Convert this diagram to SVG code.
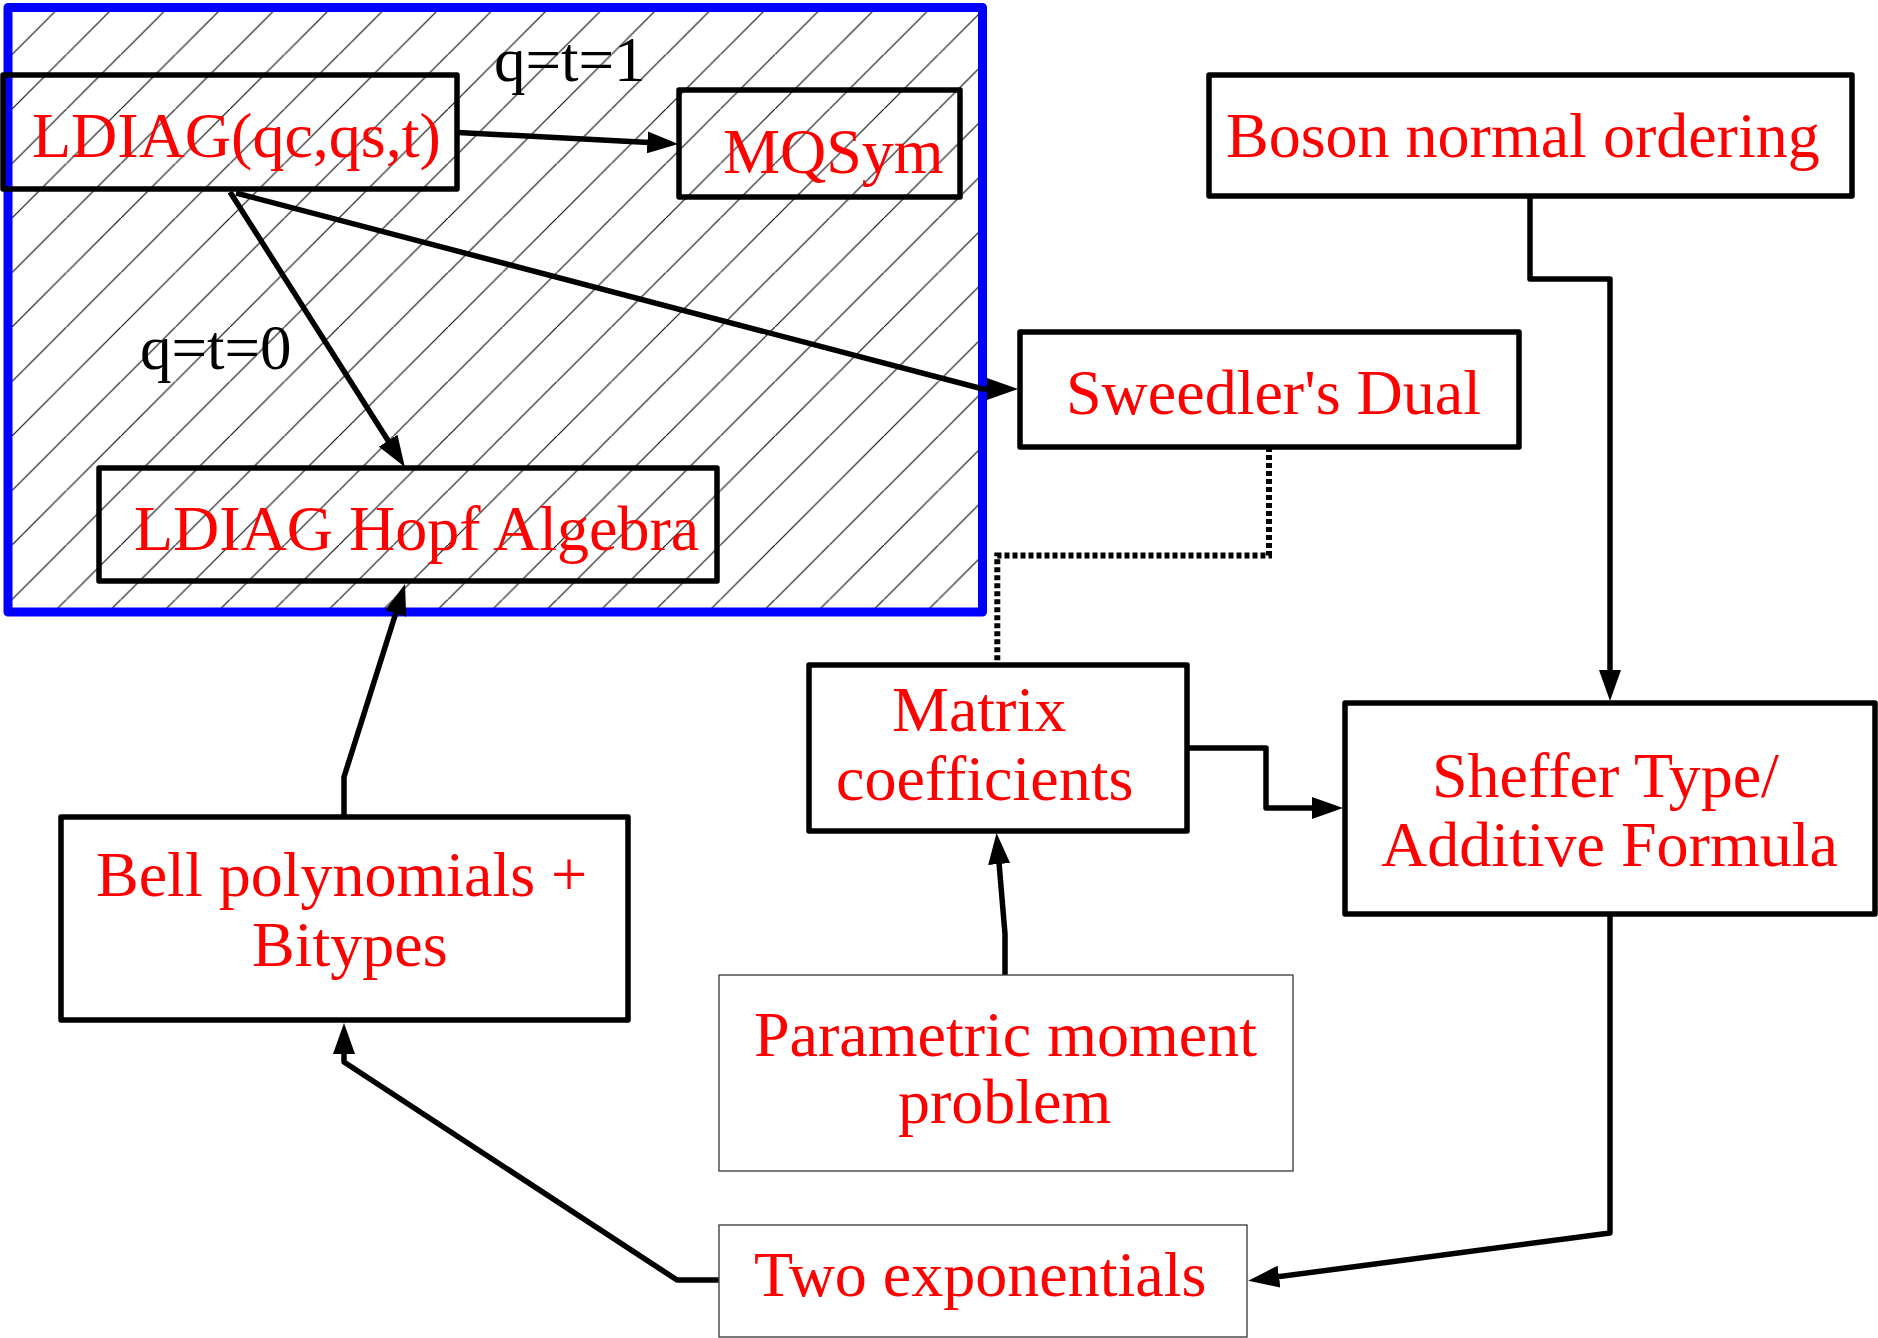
<svg xmlns="http://www.w3.org/2000/svg" width="1878" height="1338" viewBox="0 0 1878 1338">
  <style>
    .box { fill: none; stroke: #000; stroke-width: 5.5; stroke-linejoin: round; }
    .thin { fill: none; stroke: #444; stroke-width: 1.4; }
    .lbl { font-family: "Liberation Serif", "Times New Roman", serif; font-size: 64px; fill: #ff0000; }
    .cond { font-family: "Liberation Serif", "Times New Roman", serif; font-size: 63px; fill: #000; }
    .link { fill: none; stroke: #000; stroke-width: 5.5; stroke-linejoin: round; }
    .dotted { fill: none; stroke: #000; stroke-width: 6; stroke-dasharray: 5 3; }
  </style>
  <defs>
    <pattern id="hatch" patternUnits="userSpaceOnUse" x="12" y="0" width="54.5" height="54.5">
      <path d="M-5,59.5 L59.5,-5" stroke="#111" stroke-width="1.2"/>
    </pattern>
    <marker id="arrow" markerUnits="userSpaceOnUse" markerWidth="31" markerHeight="22" refX="11" refY="11" orient="auto">
      <path d="M0,0 L31,11 L0,22 Z" fill="#000"/>
    </marker>
  </defs>

  <rect width="1878" height="1338" fill="#fff"/>

  <!-- hatched LDIAG region -->
  <g id="ldiag-region">
    <rect x="8" y="7.5" width="974.5" height="604.5" fill="url(#hatch)"/>
    <rect x="8" y="7.5" width="974.5" height="604.5" fill="none" stroke="#0000ff" stroke-width="9" stroke-linejoin="round"/>
  </g>

  <g id="connectors">
    <!-- LDIAG(qc,qs,t) -> MQSym -->
    <path class="link" d="M458,132.5 L658.3,143" marker-end="url(#arrow)"/>
    <!-- LDIAG(qc,qs,t) -> LDIAG Hopf Algebra -->
    <path class="link" d="M230,192 L394.1,450" marker-end="url(#arrow)"/>
    <!-- LDIAG(qc,qs,t) -> Sweedler's Dual -->
    <path class="link" d="M236,193 L983,389 L998,389" marker-end="url(#arrow)"/>
    <!-- Boson normal ordering -> Sheffer -->
    <path class="link" d="M1530,196 V279 H1610 V681" marker-end="url(#arrow)"/>
    <!-- Sweedler's Dual .... Matrix coefficients -->
    <path class="dotted" d="M1269,447 V555.5 H997.3 V663"/>
    <!-- Matrix coefficients -> Sheffer -->
    <path class="link" d="M1187,748 H1266 V808 H1323" marker-end="url(#arrow)"/>
    <!-- Parametric moment problem -> Matrix coefficients -->
    <path class="link" d="M1005,975 V934 L998.2,853" marker-end="url(#arrow)"/>
    <!-- Sheffer -> Two exponentials -->
    <path class="link" d="M1610,914 V1233 L1268.1,1278.1" marker-end="url(#arrow)"/>
    <!-- Two exponentials -> Bell polynomials -->
    <path class="link" d="M719,1280 H677 L344,1062 V1043" marker-end="url(#arrow)"/>
    <!-- Bell polynomials -> LDIAG Hopf Algebra -->
    <path class="link" d="M344,816 V777 L399,603" marker-end="url(#arrow)"/>
    <text class="cond" x="494" y="81">q=t=1</text>
    <text class="cond" x="140" y="369">q=t=0</text>
  </g>

  <g id="node-ldiag-qcqst">
    <rect class="box" x="3" y="75" width="454" height="114"/>
    <text class="lbl" x="32" y="157">LDIAG(qc,qs,t)</text>
  </g>
  <g id="node-mqsym">
    <rect class="box" x="679" y="90" width="281" height="107"/>
    <text class="lbl" x="723" y="173">MQSym</text>
  </g>
  <g id="node-ldiag-hopf">
    <rect class="box" x="99" y="468" width="618" height="113"/>
    <text class="lbl" x="134" y="550">LDIAG Hopf Algebra</text>
  </g>
  <g id="node-sweedler">
    <rect class="box" x="1020" y="332" width="499" height="115"/>
    <text class="lbl" x="1066" y="414">Sweedler's Dual</text>
  </g>
  <g id="node-boson">
    <rect class="box" x="1209" y="75" width="643" height="121" stroke-width="6.5"/>
    <text class="lbl" x="1226" y="157">Boson normal ordering</text>
  </g>
  <g id="node-matrix">
    <rect class="box" x="809" y="665" width="378" height="166" stroke-width="6.5"/>
    <text class="lbl" x="892" y="731">Matrix</text>
    <text class="lbl" x="836" y="800">coefficients</text>
  </g>
  <g id="node-sheffer">
    <rect class="box" x="1345" y="703" width="530" height="211"/>
    <text class="lbl" x="1432" y="797">Sheffer Type/</text>
    <text class="lbl" x="1381" y="866">Additive Formula</text>
  </g>
  <g id="node-bell">
    <rect class="box" x="61" y="817" width="567" height="203"/>
    <text class="lbl" x="96" y="896">Bell polynomials +</text>
    <text class="lbl" x="252" y="966">Bitypes</text>
  </g>
  <g id="node-parametric">
    <rect class="thin" x="719" y="975" width="574" height="196"/>
    <text class="lbl" x="754" y="1056">Parametric moment</text>
    <text class="lbl" x="898" y="1123">problem</text>
  </g>
  <g id="node-two-exp">
    <rect class="thin" x="719" y="1225" width="528" height="112"/>
    <text class="lbl" x="754" y="1296">Two exponentials</text>
  </g>
</svg>
